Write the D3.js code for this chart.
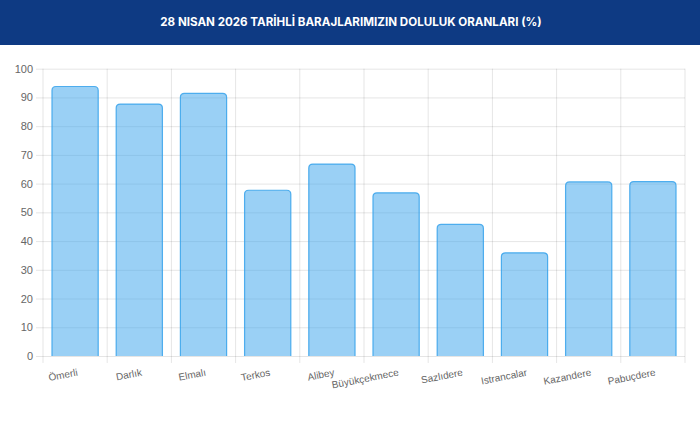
<!DOCTYPE html>
<html>
<head>
<meta charset="utf-8">
<script src="https://cdnjs.cloudflare.com/ajax/libs/d3/7.8.5/d3.min.js"></script>
<style>
  html, body { margin: 0; padding: 0; background: #fff; }
  svg { display: block; }
</style>
</head>
<body>
<div id="chart"></div>
<script>
// chart values
const titleText = "28 NISAN 2026 TARİHLİ BARAJLARIMIZIN DOLULUK ORANLARI (%)";
const dams = ["Ömerli", "Darlık", "Elmalı", "Terkos", "Alibey", "Büyükçekmece", "Sazlıdere", "Istrancalar", "Kazandere", "Pabuçdere"];
const fillRates = [93.8, 87.7, 91.4, 57.7, 66.8, 56.8, 45.8, 35.9, 60.6, 60.7];
const yTicks = [0, 10, 20, 30, 40, 50, 60, 70, 80, 90, 100];

const W = 700, H = 427;
const margin = { top: 68.7, right: 15, bottom: 71, left: 43 };
const width = W - margin.left - margin.right;
const height = H - margin.top - margin.bottom;

const svg = d3.select("#chart").append("svg")
    .attr("width", W)
    .attr("height", H);

// header band
svg.append("rect")
    .attr("x", 0).attr("y", 0)
    .attr("width", W).attr("height", 45)
    .attr("fill", "#0e3a83");

svg.append("text")
    .attr("x", 351)
    .attr("y", 25.7)
    .attr("text-anchor", "middle")
    .attr("fill", "#fff")
    .style("font-family", "Inter, 'Open Sans', sans-serif")
    .style("font-weight", "700")
    .style("font-size", "11.6px")
    .text(titleText);

const g = svg.append("g")
    .attr("transform", `translate(${margin.left},${margin.top})`);

const x = d3.scaleBand().domain(dams).range([0, width]).padding(0);
const y = d3.scaleLinear().domain([0, 100]).range([height, 0]);

const gridColor = "rgba(0,0,0,0.1)";

// horizontal grid + tick marks
g.append("g")
    .call(d3.axisLeft(y).tickValues(yTicks).tickSize(-width - 7).tickPadding(4))
    .call(a => a.selectAll(".tick line").attr("x1", -7).attr("x2", width).attr("stroke", gridColor))
    .call(a => a.select(".domain").remove())
    .call(a => a.selectAll("text")
        .attr("x", -10)
        .attr("fill", "#666")
        .style("font-family", "'Liberation Sans', Arial, sans-serif")
        .style("font-size", "11px"));

// vertical grid at category edges
const edges = dams.map(d => x(d)).concat([width]);
g.append("g").selectAll("line")
    .data(edges)
    .join("line")
    .attr("x1", d => d).attr("x2", d => d)
    .attr("y1", 0).attr("y2", height + 7)
    .attr("stroke", gridColor);

// bars with rounded top corners
const barW = x.bandwidth() * 0.72;
const r = 4;
function barPath(d, i) {
    const cx = x(dams[i]) + x.bandwidth() / 2;
    const x0 = cx - barW / 2, x1 = cx + barW / 2;
    const yt = y(d), yb = y(0);
    return `M${x0},${yb}V${yt + r}Q${x0},${yt} ${x0 + r},${yt}H${x1 - r}Q${x1},${yt} ${x1},${yt + r}V${yb}`;
}
g.append("g").selectAll("path")
    .data(fillRates)
    .join("path")
    .attr("d", (d, i) => barPath(d, i))
    .attr("fill", "rgba(54,162,235,0.5)")
    .attr("stroke", "rgba(54,162,235,0.85)")
    .attr("stroke-width", 1.2);

// x labels, rotated
g.append("g").selectAll("text")
    .data(dams)
    .join("text")
    .attr("transform", d => `translate(${x(d) + x.bandwidth() / 2 + 3},${height + 19.5}) rotate(-11)`)
    .attr("text-anchor", "end")
    .attr("fill", "#666")
    .style("font-family", "'Liberation Sans', Arial, sans-serif")
    .style("font-size", "10px")
    .text(d => d);
</script>
</body>
</html>
